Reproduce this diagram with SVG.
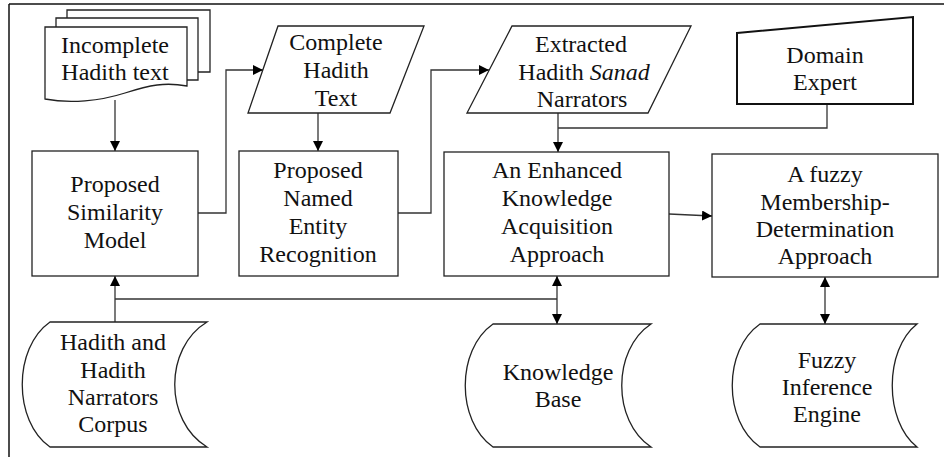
<svg xmlns="http://www.w3.org/2000/svg" width="944" height="457" viewBox="0 0 944 457">
  <style>
    .shape { fill: #fff; stroke: #222; stroke-width: 1.3; }
    .thick { fill: #fff; stroke: #111; stroke-width: 2; }
    .edge { fill: none; stroke: #333; stroke-width: 1.3; }
    .label { font-family: "Liberation Serif", "Times New Roman", Times, Tinos, "Nimbus Roman", "Nimbus Roman No9 L", FreeSerif, "Noto Serif", "DejaVu Serif", serif; font-size: 24px; fill: #111; text-anchor: middle; }
  </style>
  <defs>
    <marker id="arrow" viewBox="0 0 10 10" refX="10" refY="5" markerWidth="10" markerHeight="10" markerUnits="userSpaceOnUse" orient="auto-start-reverse">
      <path d="M0,0 L10,5 L0,10 Z" fill="#000"/>
    </marker>
  </defs>

  <!-- page frame -->
  <g id="frame">
    <line x1="9" y1="4" x2="944" y2="4" stroke="#111" stroke-width="1.5"/>
    <line x1="9" y1="4" x2="9" y2="457" stroke="#111" stroke-width="1.5"/>
  </g>

  <!-- connectors -->
  <g id="connectors">
    <line class="edge" x1="115" y1="100" x2="115" y2="151" marker-end="url(#arrow)"/>
    <polyline class="edge" points="198,213 226,213 226,70 263,70" marker-end="url(#arrow)"/>
    <line class="edge" x1="318" y1="113" x2="318" y2="151" marker-end="url(#arrow)"/>
    <polyline class="edge" points="398,213 431,213 431,70 489,70" marker-end="url(#arrow)"/>
    <line class="edge" x1="558" y1="113" x2="558" y2="152" marker-end="url(#arrow)"/>
    <polyline class="edge" points="827,104 827,128 558,128"/>
    <line class="edge" x1="669" y1="214" x2="712" y2="216" marker-end="url(#arrow)"/>
    <line class="edge" x1="825" y1="277" x2="825" y2="324" marker-start="url(#arrow)" marker-end="url(#arrow)"/>
    <line class="edge" x1="557" y1="276" x2="557" y2="324" marker-start="url(#arrow)" marker-end="url(#arrow)"/>
    <line class="edge" x1="115" y1="322" x2="115" y2="276" marker-end="url(#arrow)"/>
    <line class="edge" x1="115" y1="299" x2="557" y2="299"/>
  </g>

  <!-- multi-document input -->
  <g id="incomplete-text">
    <polyline class="shape" points="67,18 67,10 210,10 210,72 198,72" fill="none"/>
    <polyline class="shape" points="56,27 56,18 198,18 198,80 187,80" fill="none"/>
    <path class="shape" d="M45,27 H187 V86 C165,82 150,85 125,93 C100,101 70,104 45,99 Z"/>
    <text class="label" x="115" y="53">Incomplete</text>
    <text class="label" x="115" y="80">Hadith text</text>
  </g>

  <g id="similarity-model">
    <rect class="shape" x="32" y="151" width="166" height="125"/>
    <text class="label" x="115" y="192">Proposed</text>
    <text class="label" x="115" y="220">Similarity</text>
    <text class="label" x="115" y="248">Model</text>
  </g>

  <g id="complete-text">
    <polygon class="shape" points="278,26 424,26 390,113 248,113"/>
    <text class="label" x="336" y="50">Complete</text>
    <text class="label" x="336" y="78">Hadith</text>
    <text class="label" x="336" y="106">Text</text>
  </g>

  <g id="ner">
    <rect class="shape" x="239" y="151" width="159" height="125"/>
    <text class="label" x="318" y="178">Proposed</text>
    <text class="label" x="318" y="206">Named</text>
    <text class="label" x="318" y="234">Entity</text>
    <text class="label" x="318" y="262">Recognition</text>
  </g>

  <g id="extracted-narrators">
    <polygon class="shape" points="512,26 691,26 648,113 467,113"/>
    <text class="label" x="581" y="52">Extracted</text>
    <text class="label" x="584" y="80">Hadith <tspan font-style="italic">Sanad</tspan></text>
    <text class="label" x="582" y="107">Narrators</text>
  </g>

  <g id="domain-expert">
    <polygon class="thick" points="737,33 913,17 913,104 737,104"/>
    <text class="label" x="825" y="63">Domain</text>
    <text class="label" x="825" y="90">Expert</text>
  </g>

  <g id="knowledge-acquisition">
    <rect class="shape" x="444" y="152" width="225" height="124"/>
    <text class="label" x="557" y="178">An Enhanced</text>
    <text class="label" x="557" y="206">Knowledge</text>
    <text class="label" x="557" y="234">Acquisition</text>
    <text class="label" x="557" y="262">Approach</text>
  </g>

  <g id="fuzzy-membership">
    <rect class="shape" x="712" y="154" width="226" height="123"/>
    <text class="label" x="825" y="182">A fuzzy</text>
    <text class="label" x="825" y="210">Membership-</text>
    <text class="label" x="825" y="237">Determination</text>
    <text class="label" x="825" y="264">Approach</text>
  </g>

  <g id="corpus">
    <path class="shape" d="M50,322 H207 C164,348 164,421 207,447 H50 C13,421 13,348 50,322 Z"/>
    <text class="label" x="113" y="350">Hadith and</text>
    <text class="label" x="113" y="378">Hadith</text>
    <text class="label" x="113" y="405">Narrators</text>
    <text class="label" x="113" y="432">Corpus</text>
  </g>

  <g id="knowledge-base">
    <path class="shape" d="M493,324 H651 C612,350 612,421 651,447 H493 C456,421 456,350 493,324 Z"/>
    <text class="label" x="558" y="380">Knowledge</text>
    <text class="label" x="558" y="407">Base</text>
  </g>

  <g id="inference-engine">
    <path class="shape" d="M760,324 H917 C884,350 884,421 917,447 H760 C723,421 723,350 760,324 Z"/>
    <text class="label" x="827" y="368">Fuzzy</text>
    <text class="label" x="827" y="395">Inference</text>
    <text class="label" x="827" y="422">Engine</text>
  </g>
</svg>
